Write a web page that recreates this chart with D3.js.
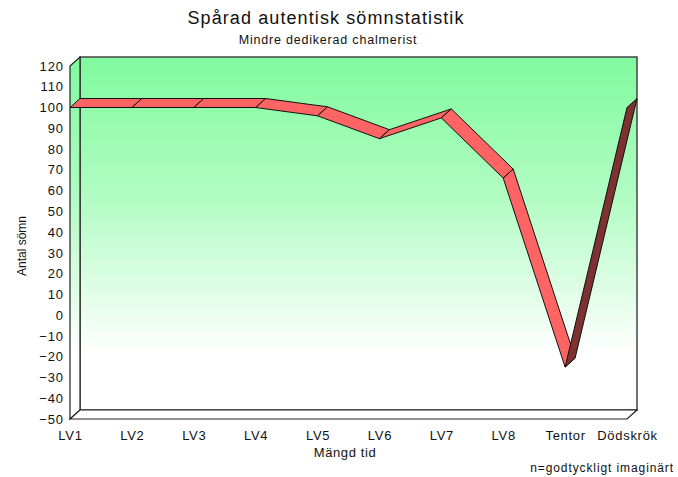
<!DOCTYPE html>
<html>
<head>
<meta charset="utf-8">
<script src="https://cdn.jsdelivr.net/npm/d3@7"></script>
<style>
  body { margin: 0; background: #fff; }
  text { font-family: "Liberation Sans", Arial, sans-serif; fill: #111; }
</style>
</head>
<body>
<div id="main"></div>
<script>
// chart data
let categories = ["LV1", "LV2", "LV3", "LV4", "LV5", "LV6", "LV7", "LV8", "Tentor", "Dödskrök"];
let values = [100, 100, 100, 100, 96, 85, 95, 66, -25, 100];
let yTicks = [-50, -40, -30, -20, -10, 0, 10, 20, 30, 40, 50, 60, 70, 80, 90, 100, 110, 120];

let width = 678;
let height = 477;

// depth of the 3d box, in px
let depth = { x: 10, y: -9 };

let svg = d3.select('#main')
  .append('svg')
  .attr('width', width)
  .attr('height', height);

let x = d3.scalePoint()
  .domain(categories)
  .range([70, 627]);

let y = d3.scaleLinear()
  .domain([-50, 120])
  .range([419, 66]);

let defs = svg.append('defs');
let grad = defs.append('linearGradient')
  .attr('id', 'wallGrad')
  .attr('gradientUnits', 'userSpaceOnUse')
  .attr('x1', 0).attr('x2', 0)
  .attr('y1', y(120) + depth.y).attr('y2', y(-50));
grad.append('stop').attr('offset', '0%').attr('stop-color', '#80fa9e');
grad.append('stop').attr('offset', '40%').attr('stop-color', '#b3fcc4');
grad.append('stop').attr('offset', '82%').attr('stop-color', '#ffffff');
grad.append('stop').attr('offset', '100%').attr('stop-color', '#ffffff');

let x0 = x.range()[0], x1 = x.range()[1];
let yTop = y(120), yBot = y(-50);

function pts(arr) {
  return arr.map(function(p) { return p.join(','); }).join(' ');
}

let box = svg.append('g').attr('class', 'box');

// back wall
box.append('polygon')
  .attr('points', pts([[x0 + depth.x, yTop + depth.y], [x1 + depth.x, yTop + depth.y],
                       [x1 + depth.x, yBot + depth.y], [x0 + depth.x, yBot + depth.y]]))
  .attr('fill', 'url(#wallGrad)')
  .attr('stroke', '#444')
  .attr('stroke-width', 1.5);

// left side wall
box.append('polygon')
  .attr('points', pts([[x0, yTop], [x0 + depth.x, yTop + depth.y],
                       [x0 + depth.x, yBot + depth.y], [x0, yBot]]))
  .attr('fill', 'url(#wallGrad)')
  .attr('stroke', '#222')
  .attr('stroke-width', 1.2);

// floor
box.append('polygon')
  .attr('points', pts([[x0, yBot], [x0 + depth.x, yBot + depth.y],
                       [x1 + depth.x, yBot + depth.y], [x1, yBot]]))
  .attr('fill', '#fff')
  .attr('stroke', '#222')
  .attr('stroke-width', 1.2);

// ribbon segments
let segments = d3.pairs(categories.map(function(c, i) { return { c: c, v: values[i] }; }));

svg.append('g')
  .attr('class', 'ribbon')
  .selectAll('polygon')
  .data(segments)
  .enter().append('polygon')
  .attr('points', function(d) {
    let ax = x(d[0].c), ay = y(d[0].v);
    let bx = x(d[1].c), by = y(d[1].v);
    return pts([[ax, ay], [bx, by], [bx + depth.x, by + depth.y], [ax + depth.x, ay + depth.y]]);
  })
  .attr('fill', function(d) {
    // underside shows when segment is steeper than the depth direction
    let dx = x(d[1].c) - x(d[0].c);
    let dy = y(d[1].v) - y(d[0].v);
    let cross = dx * depth.y - dy * depth.x;
    return cross > 0 ? '#7d3131' : '#ff6464';
  })
  .attr('stroke', '#111')
  .attr('stroke-width', 1)
  .attr('stroke-linejoin', 'round');

// axes
let yAxis = svg.append('g')
  .attr('transform', 'translate(' + (x0 - 4) + ',0)')
  .call(d3.axisLeft(y).tickValues(yTicks).tickSize(0).tickPadding(2));
yAxis.select('.domain').remove();
yAxis.selectAll('text')
  .style('font-size', '13px')
  .style('letter-spacing', '0.9px')
  .style('font-family', '"Liberation Sans", Arial, sans-serif')
  .attr('fill', '#111');

let xAxis = svg.append('g')
  .attr('transform', 'translate(0,' + yBot + ')')
  .call(d3.axisBottom(x).tickSize(0).tickPadding(12));
xAxis.select('.domain').remove();
xAxis.selectAll('text')
  .style('font-size', '13px')
  .style('letter-spacing', '0.7px')
  .style('font-family', '"Liberation Sans", Arial, sans-serif')
  .attr('fill', '#111');

// titles
svg.append('text')
  .attr('x', 326).attr('y', 24)
  .attr('text-anchor', 'middle')
  .style('font-size', '18px')
  .style('letter-spacing', '1.1px')
  .text('Spårad autentisk sömnstatistik');

svg.append('text')
  .attr('x', 328).attr('y', 44)
  .attr('text-anchor', 'middle')
  .style('font-size', '12.5px')
  .style('letter-spacing', '0.8px')
  .text('Mindre dedikerad chalmerist');

svg.append('text')
  .attr('x', 345).attr('y', 457)
  .attr('text-anchor', 'middle')
  .style('font-size', '13px')
  .style('letter-spacing', '0.6px')
  .text('Mängd tid');

svg.append('text')
  .attr('transform', 'translate(26,246) rotate(-90)')
  .attr('text-anchor', 'middle')
  .style('font-size', '12px')
  .text('Antal sömn');

svg.append('text')
  .attr('x', 674).attr('y', 472)
  .attr('text-anchor', 'end')
  .style('font-size', '12px')
  .style('letter-spacing', '0.9px')
  .text('n=godtyckligt imaginärt');
</script>
</body>
</html>
